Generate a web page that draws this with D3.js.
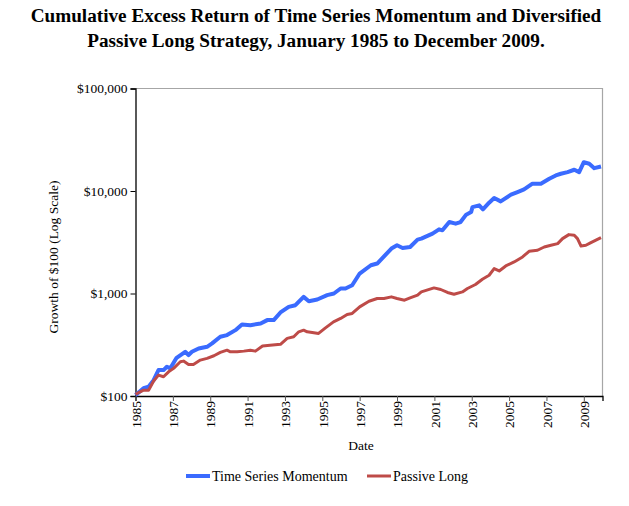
<!DOCTYPE html>
<html>
<head>
<meta charset="utf-8">
<script src="https://cdn.jsdelivr.net/npm/d3@7/dist/d3.min.js"></script>
<style>
  html, body { margin: 0; padding: 0; background: #fff; }
  svg text { font-family: "Liberation Serif", "Times New Roman", serif; fill: #000; }
</style>
</head>
<body>
<svg id="chart" width="629" height="506"></svg>
<script>
// ---- Data ----
const titleLines = [
  "Cumulative Excess Return of Time Series Momentum and Diversified",
  "Passive Long Strategy, January 1985 to December 2009."
];
const seriesNames = ["Time Series Momentum", "Passive Long"];
const xTickYears = [1985, 1987, 1989, 1991, 1993, 1995, 1997, 1999, 2001, 2003, 2005, 2007, 2009];
const yTickValues = [100, 1000, 10000, 100000];

const momDates = [1985.0, 1985.43, 1985.7, 1985.97, 1986.23, 1986.5, 1986.68, 1986.86, 1987.2, 1987.66,
  1987.84, 1988.02, 1988.38, 1988.83, 1989.1, 1989.54, 1989.9, 1990.35, 1990.7, 1991.15,
  1991.7, 1992.05, 1992.4, 1992.76, 1993.2, 1993.56, 1994.0, 1994.28, 1994.73, 1995.26,
  1995.62, 1995.98, 1996.24, 1996.6, 1997.0, 1997.6, 1997.94, 1998.7, 1999.0, 1999.3,
  1999.7, 2000.1, 2000.3, 2000.9, 2001.25, 2001.43, 2001.8, 2002.14, 2002.4, 2002.7,
  2002.97, 2003.04, 2003.4, 2003.6, 2003.93, 2004.2, 2004.55, 2005.1, 2005.45, 2005.8,
  2006.25, 2006.7, 2007.15, 2007.5, 2007.77, 2008.13, 2008.49, 2008.75, 2009.0, 2009.29,
  2009.56, 2009.92];
const momValues = [102, 119, 123, 143, 179, 179, 193, 186, 236, 270,
  251, 270, 291, 302, 326, 378, 393, 439, 499, 491,
  510, 550, 550, 653, 741, 769, 927, 841, 874, 963,
  1000, 1119, 1119, 1204, 1566, 1886, 1960, 2744, 2953, 2780,
  2843, 3357, 3432, 3839, 4227, 4134, 4980, 4804, 4980, 5877,
  6230, 6970, 7240, 6620, 7691, 8530, 7920, 9204, 9757, 10370,
  11780, 11780, 13180, 14190, 14740, 15280, 16120, 15280, 19110, 18440,
  16710, 17360];

const longDates = [1985.0, 1985.43, 1985.7, 1985.97, 1986.23, 1986.5, 1986.77, 1987.04, 1987.4, 1987.57,
  1987.84, 1988.1, 1988.47, 1988.83, 1989.2, 1989.54, 1989.9, 1990.08, 1990.44, 1990.8,
  1991.15, 1991.42, 1991.8, 1992.2, 1992.76, 1993.12, 1993.47, 1993.74, 1994.0, 1994.19,
  1994.46, 1994.8, 1995.17, 1995.6, 1995.98, 1996.33, 1996.6, 1997.0, 1997.5, 1997.94,
  1998.3, 1998.7, 1999.0, 1999.4, 1999.7, 2000.1, 2000.3, 2000.98, 2001.34, 2001.7,
  2002.05, 2002.5, 2002.77, 2003.2, 2003.57, 2003.93, 2004.2, 2004.47, 2004.82, 2005.27,
  2005.72, 2006.07, 2006.52, 2006.88, 2007.24, 2007.6, 2007.86, 2008.2, 2008.49, 2008.66,
  2008.85, 2009.11, 2009.38, 2009.92];
const longValues = [104, 114, 114, 140, 160, 154, 172, 186, 216, 219,
  203, 203, 224, 233, 247, 266, 280, 270, 270, 274,
  280, 274, 307, 312, 319, 365, 378, 423, 439, 423,
  417, 408, 462, 529, 571, 625, 639, 741, 841, 894,
  894, 927, 894, 861, 906, 963, 1037, 1134, 1094, 1023,
  984, 1037, 1119, 1224, 1378, 1507, 1751, 1660, 1857, 2031,
  2272, 2582, 2641, 2843, 2953, 3068, 3432, 3754, 3696, 3432,
  2907, 2953, 3138, 3510];

const colors = ["#3a6bff", "#be4b48"];

// ---- Layout ----
const svg = d3.select("#chart");
const plot = { left: 135.5, right: 602.5, top: 88.5, bottom: 396 };

const x = d3.scaleLinear().domain([1985, 2010]).range([plot.left, plot.right]);
const y = d3.scaleLog().domain([100, 100000]).range([plot.bottom, plot.top]);

// Title
svg.append("g").selectAll("text").data(titleLines).join("text")
  .attr("x", 316).attr("y", (d, i) => 22 + i * 25)
  .attr("text-anchor", "middle")
  .style("font-weight", "bold").style("font-size", "19.2px")
  .text(d => d);

// Plot frame (top & right gray)
svg.append("path")
  .attr("d", `M${plot.left},${plot.top}H${plot.right}V${plot.bottom}`)
  .attr("fill", "none").attr("stroke", "#a6a6a6").attr("stroke-width", 1.2);

// Y axis
const yAxis = d3.axisLeft(y).tickValues(yTickValues).tickSize(5).tickPadding(3)
  .tickFormat(d => "$" + d3.format(",")(d));
const gy = svg.append("g").attr("transform", `translate(${plot.left},0)`).call(yAxis);
gy.select(".domain").attr("stroke", "#000").attr("stroke-width", 1.3);
gy.selectAll(".tick line").attr("stroke", "#000");
gy.selectAll(".tick text").style("font-size", "13.5px")
  .style("font-family", "'Liberation Serif', 'Times New Roman', serif");

// X axis
const xAxis = d3.axisBottom(x).tickValues(xTickYears).tickSize(5).tickPadding(4)
  .tickFormat(d3.format("d"));
const gx = svg.append("g").attr("transform", `translate(0,${plot.bottom})`).call(xAxis);
gx.select(".domain").attr("stroke", "#000").attr("stroke-width", 1.3);
gx.selectAll(".tick line").attr("stroke", "#555");
gx.selectAll(".tick text")
  .style("font-size", "13.5px")
  .style("font-family", "'Liberation Serif', 'Times New Roman', serif")
  .attr("transform", "rotate(-90)")
  .attr("text-anchor", "end")
  .attr("x", -5).attr("y", 0).attr("dy", "0.35em");

// Axis titles
svg.append("text")
  .attr("transform", `translate(58,257) rotate(-90)`)
  .attr("text-anchor", "middle").style("font-size", "13.5px")
  .text("Growth of $100 (Log Scale)");
svg.append("text")
  .attr("x", (plot.left + plot.right) / 2 - 8).attr("y", 450)
  .attr("text-anchor", "middle").style("font-size", "13.5px")
  .text("Date");

// Lines
const line = d3.line().x(d => x(d[0])).y(d => y(d[1]));
const seriesData = [
  d3.zip(momDates, momValues),
  d3.zip(longDates, longValues)
];
svg.append("g").selectAll("path").data(seriesData).join("path")
  .attr("d", line)
  .attr("fill", "none")
  .attr("stroke", (d, i) => colors[i])
  .attr("stroke-width", (d, i) => i === 0 ? 4 : 3)
  .attr("stroke-linejoin", "round");

// Legend
const legendX = [186, 367];
const leg = svg.append("g").selectAll("g").data(seriesNames).join("g")
  .attr("transform", (d, i) => `translate(${legendX[i]},476)`);
leg.append("line").attr("x1", 0).attr("x2", 24).attr("y1", 0).attr("y2", 0)
  .attr("stroke", (d, i) => colors[i]).attr("stroke-width", (d, i) => i === 0 ? 4 : 3);
leg.append("text").attr("x", 26).attr("y", 0).attr("dy", "0.35em")
  .style("font-size", "14px").text(d => d);
</script>
</body>
</html>
